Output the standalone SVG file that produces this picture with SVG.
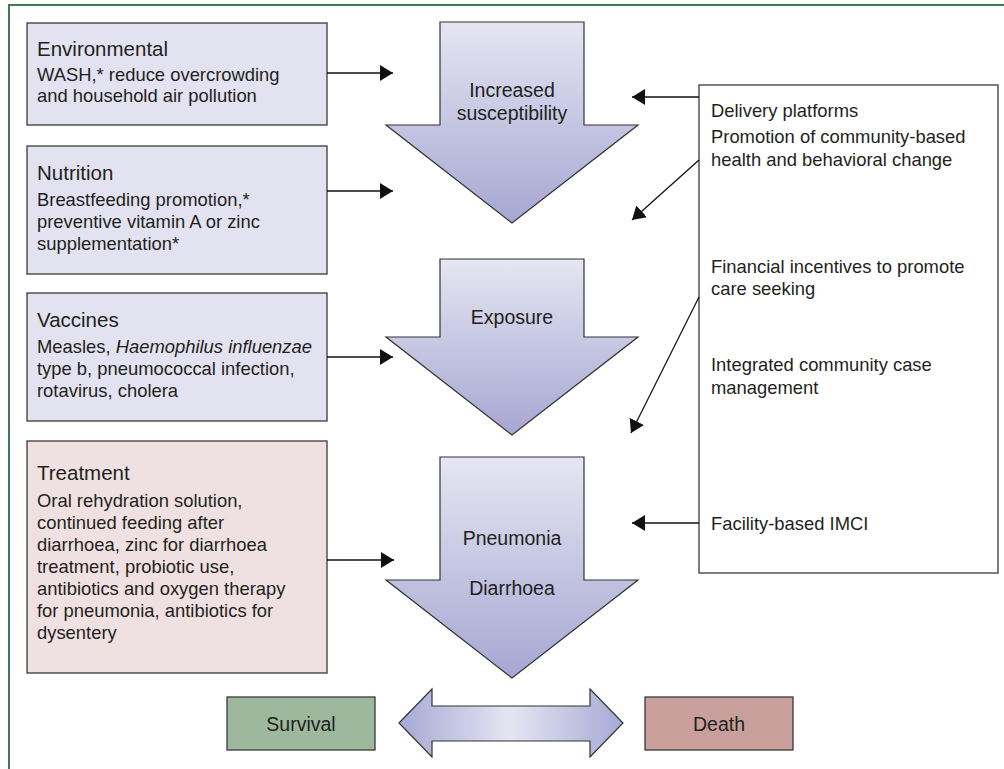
<svg xmlns="http://www.w3.org/2000/svg" width="1004" height="769" viewBox="0 0 1004 769">
<style>
.box{stroke:#3a3a3a;stroke-width:1.3}
.lav{fill:#e3e2f0}
.pink{fill:#efe1e1}
.t{font-family:"Liberation Sans",Arial,sans-serif;fill:#231f20}
.title{font-size:20.5px}
.body{font-size:18.4px}
.lbl{font-size:19.5px;text-anchor:middle}
.conn{stroke:#111;stroke-width:1.3;fill:none;marker-end:url(#ah)}
.big{stroke:#333;stroke-width:1.2;fill:url(#vg)}
</style>
<defs>
<linearGradient id="vg" x1="0" y1="0" x2="0" y2="1">
<stop offset="0" stop-color="#e5e5f2"/>
<stop offset="1" stop-color="#a5a7d2"/>
</linearGradient>
<linearGradient id="hg" x1="0" y1="0" x2="1" y2="0">
<stop offset="0" stop-color="#a6a9d4"/>
<stop offset="0.5" stop-color="#e5e5f2"/>
<stop offset="1" stop-color="#a6a9d4"/>
</linearGradient>
<marker id="ah" viewBox="0 0 13 16" refX="13" refY="8" markerWidth="13" markerHeight="16" orient="auto" markerUnits="userSpaceOnUse">
<path d="M0,0 L13,8 L0,16 z" fill="#111"/>
</marker>
</defs>
<rect width="1004" height="769" fill="#fff"/>
<path d="M9,769 V5 H1004" fill="none" stroke="#3f7a52" stroke-width="2"/>

<g id="environmental">
<rect class="box lav" x="27" y="23" width="300" height="102"/>
<text class="t title" x="37" y="56">Environmental</text>
<text class="t body" x="37" y="81">WASH,* reduce overcrowding</text>
<text class="t body" x="37" y="102">and household air pollution</text>
</g>

<g id="nutrition">
<rect class="box lav" x="27" y="146" width="300" height="128"/>
<text class="t title" x="37" y="180">Nutrition</text>
<text class="t body" x="37" y="206">Breastfeeding promotion,*</text>
<text class="t body" x="37" y="228">preventive vitamin A or zinc</text>
<text class="t body" x="37" y="250">supplementation*</text>
</g>

<g id="vaccines">
<rect class="box lav" x="27" y="293" width="300" height="128"/>
<text class="t title" x="37" y="327">Vaccines</text>
<text class="t body" x="37" y="353">Measles, <tspan font-style="italic">Haemophilus influenzae</tspan></text>
<text class="t body" x="37" y="375">type b, pneumococcal infection,</text>
<text class="t body" x="37" y="397">rotavirus, cholera</text>
</g>

<g id="treatment">
<rect class="box pink" x="27" y="441" width="300" height="232"/>
<text class="t title" x="37" y="480">Treatment</text>
<text class="t body" x="37" y="507">Oral rehydration solution,</text>
<text class="t body" x="37" y="529">continued feeding after</text>
<text class="t body" x="37" y="551">diarrhoea, zinc for diarrhoea</text>
<text class="t body" x="37" y="573">treatment, probiotic use,</text>
<text class="t body" x="37" y="595">antibiotics and oxygen therapy</text>
<text class="t body" x="37" y="617">for pneumonia, antibiotics for</text>
<text class="t body" x="37" y="639">dysentery</text>
</g>

<g id="increased-susceptibility">
<polygon class="big" points="440,22 584,22 584,125 638,125 512,223 386,125 440,125"/>
<text class="t lbl" x="512" y="97">Increased</text>
<text class="t lbl" x="512" y="120">susceptibility</text>
</g>

<g id="exposure">
<polygon class="big" points="440,259 584,259 584,337 638,337 512,435 386,337 440,337"/>
<text class="t lbl" x="512" y="324">Exposure</text>
</g>

<g id="pneumonia-diarrhoea">
<polygon class="big" points="440,457 584,457 584,580 638,580 512,678 386,580 440,580"/>
<text class="t lbl" x="512" y="545">Pneumonia</text>
<text class="t lbl" x="512" y="595">Diarrhoea</text>
</g>

<g id="delivery-platforms">
<rect class="box" fill="#fff" x="699" y="85" width="299" height="488"/>
<text class="t body" x="711" y="117">Delivery platforms</text>
<text class="t body" x="711" y="143">Promotion of community-based</text>
<text class="t body" x="711" y="166">health and behavioral change</text>
<text class="t body" x="711" y="273">Financial incentives to promote</text>
<text class="t body" x="711" y="295">care seeking</text>
<text class="t body" x="711" y="371">Integrated community case</text>
<text class="t body" x="711" y="394">management</text>
<text class="t body" x="711" y="530">Facility-based IMCI</text>
</g>

<g id="outcome-arrow">
<polygon points="399,723 432,689 432,706 590,706 590,689 623,723 590,757 590,741 432,741 432,757" fill="url(#hg)" stroke="#333" stroke-width="1.2"/>
</g>

<g id="survival">
<rect class="box" fill="#9db89c" x="227" y="697" width="148" height="53"/>
<text class="t lbl" x="301" y="731">Survival</text>
</g>

<g id="death">
<rect class="box" fill="#c99f9b" x="645" y="697" width="148" height="53"/>
<text class="t lbl" x="719" y="731">Death</text>
</g>

<g id="connectors">
<path class="conn" d="M327,73 H393"/>
<path class="conn" d="M327,191 H393"/>
<path class="conn" d="M327,357 H393"/>
<path class="conn" d="M327,560 H394"/>
<path class="conn" d="M699,97 H632"/>
<path class="conn" d="M699,160 L632,220"/>
<path class="conn" d="M699,297 L631,433"/>
<path class="conn" d="M699,523 H632"/>
</g>
</svg>
